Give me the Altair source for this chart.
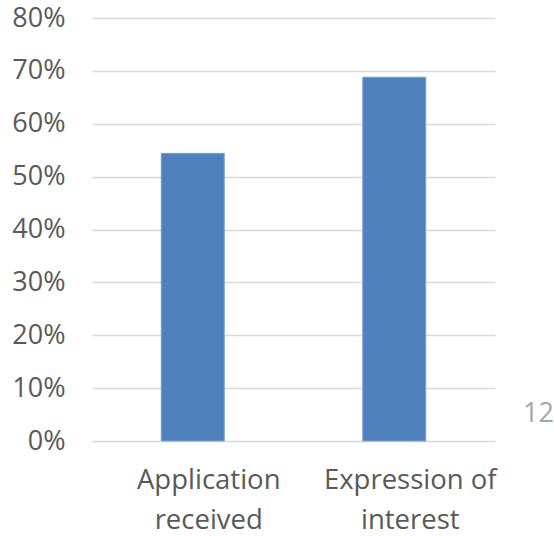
import altair as alt
import pandas as pd

categories = ["Application received", "Expression of interest"]
label_lines = [["Application", "received"], ["Expression of", "interest"]]
values = [0.544, 0.688]
y_ticks = [0, 0.1, 0.2, 0.3, 0.4, 0.5, 0.6, 0.7, 0.8]
page_note = ["12"]

df = pd.DataFrame({"category": categories, "value": values})
note_df = pd.DataFrame({"note": page_note})

label_expr = " : ".join(
    f"datum.value == '{c}' ? {lines!r}" for c, lines in zip(categories, label_lines)
) + " : datum.value"

FONT = "Open Sans"
GRAY = "#595959"

bars = alt.Chart(df).mark_bar(
    size=63, color="#4F81BD", stroke="#7BA0CF", strokeWidth=1
).encode(
    x=alt.X(
        "category:N",
        sort=categories,
        scale=alt.Scale(paddingInner=0, paddingOuter=0),
        axis=alt.Axis(
            title=None,
            labelAngle=0,
            labelExpr=label_expr,
            labelFont=FONT,
            labelFontSize=27.5,
            labelColor=GRAY,
            labelLineHeight=40,
            labelPadding=25,
            labelOffset=16,
            labelBaseline="top",
            ticks=False,
            domain=False,
            grid=False,
        ),
    ),
    y=alt.Y(
        "value:Q",
        scale=alt.Scale(domain=[0, 0.8], nice=False),
        axis=alt.Axis(
            title=None,
            values=y_ticks,
            format=".0%",
            labelFont=FONT,
            labelFontSize=27,
            labelColor=GRAY,
            labelPadding=27,
            ticks=False,
            domain=False,
            grid=True,
            gridColor="#D9D9D9",
            gridWidth=1.6,
        ),
    ),
)

note = alt.Chart(note_df).mark_text(
    align="left", baseline="alphabetic", font=FONT, fontSize=27, color="#A6A6A6"
).encode(
    text="note:N",
    x=alt.value(431),
    y=alt.value(404),
)

chart = (
    alt.layer(bars, note)
    .properties(
        width=403,
        height=423,
        autosize=alt.AutoSizeParams(type="none"),
        padding={"left": 92, "top": 18, "right": 59, "bottom": 95},
        background="white",
    )
    .configure_view(stroke=None)
)

chart.save("out.html", embed_options={"renderer": "svg", "actions": False})
